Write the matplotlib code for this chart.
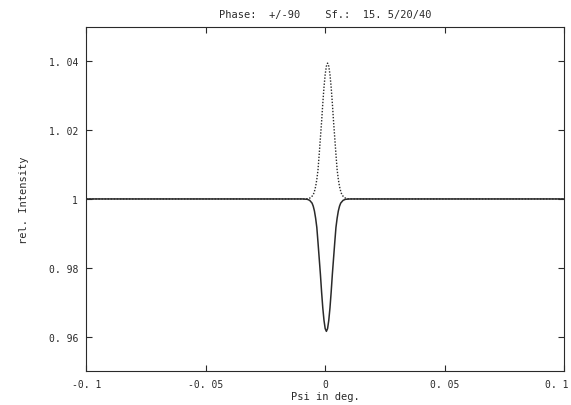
"""
Reflection curves: rel. intensity vs. psi for phase +/-90.
"""

import matplotlib
matplotlib.use("Agg")
import matplotlib.pyplot as plt
from matplotlib.transforms import ScaledTranslation

# values
peak_psi = [-0.1, -0.02, -0.009, -0.007, -0.006, -0.005, -0.0045, -0.004,
            -0.0035, -0.003, -0.0025, -0.002, -0.0015, -0.001, -0.0005, 0.0,
            0.0005, 0.001, 0.0015, 0.002, 0.0025, 0.003, 0.0035, 0.004,
            0.0045, 0.005, 0.0055, 0.006, 0.0065, 0.007, 0.008, 0.009,
            0.011, 0.022, 0.1]
peak_int = [1.0, 1.0, 1.0, 1.0001, 1.0004, 1.0012, 1.0022, 1.0036,
            1.0057, 1.0085, 1.0130, 1.0178, 1.0225, 1.0278, 1.0325, 1.0362,
            1.0386, 1.0395, 1.0386, 1.0362, 1.0325, 1.0278, 1.0225, 1.0178,
            1.0130, 1.0085, 1.0057, 1.0036, 1.0022, 1.0012, 1.0004, 1.0001,
            1.0, 1.0, 1.0]

dip_psi = [-0.1, -0.02, -0.0095, -0.0075, -0.0065, -0.0055, -0.005, -0.0045,
           -0.004, -0.0035, -0.003, -0.0025, -0.002, -0.0015, -0.001, -0.0005,
           0.0, 0.0005, 0.001, 0.0015, 0.002, 0.0025, 0.003, 0.0035,
           0.004, 0.0045, 0.005, 0.0055, 0.006, 0.0065, 0.0075, 0.0085,
           0.0105, 0.021, 0.1]
dip_int = [1.0, 1.0, 1.0, 0.9999, 0.9996, 0.9988, 0.9979, 0.9965,
           0.9944, 0.9917, 0.9873, 0.9827, 0.9781, 0.9729, 0.9683, 0.9647,
           0.9623, 0.9615, 0.9623, 0.9647, 0.9683, 0.9729, 0.9781, 0.9827,
           0.9873, 0.9917, 0.9944, 0.9965, 0.9979, 0.9988, 0.9996, 0.9999,
           1.0, 1.0, 1.0]

x_ticks = [-0.1, -0.05, 0.0, 0.05, 0.1]
x_tick_labels = ["-0. 1", "-0. 05", "0", "0. 05", "0. 1"]
y_ticks = [0.96, 0.98, 1.0, 1.02, 1.04]
y_tick_labels = ["0. 96", "0. 98", "1", "1. 02", "1. 04"]

title = "Phase:  +/-90    Sf.:  15. 5/20/40"
x_label = "Psi in deg."
y_label = "rel. Intensity"


def main():
    plt.rcParams["font.family"] = "DejaVu Sans Mono"
    ink = "#2a2a2a"

    fig = plt.figure(figsize=(5.71, 4.06), dpi=100)
    ax = fig.add_axes([0.151, 0.084, 0.837, 0.847])

    ax.plot(dip_psi, dip_int, color=ink, linewidth=1.1)
    ax.plot(peak_psi, peak_int, color=ink, linewidth=1.0, linestyle=(0, (1, 1.2)))

    ax.set_xlim(-0.1, 0.1)
    ax.set_ylim(0.95, 1.05)
    ax.set_xticks(x_ticks, x_tick_labels)
    ax.set_yticks(y_ticks, y_tick_labels)
    ax.tick_params(direction="in", length=4, width=0.8, colors=ink,
                   labelsize=7, top=True, right=True, pad=6)

    # the last x label sits a little left of its tick, as on the plotter output
    last = ax.get_xticklabels()[-1]
    last.set_transform(last.get_transform()
                       + ScaledTranslation(-7 / 100, 0, fig.dpi_scale_trans))

    for spine in ax.spines.values():
        spine.set_color(ink)
        spine.set_linewidth(0.8)

    ax.set_title(title, fontsize=7.5, color=ink, pad=7)
    ax.set_xlabel(x_label, fontsize=7.5, color=ink, labelpad=1)
    ax.set_ylabel(y_label, fontsize=7.5, color=ink, labelpad=14)

    fig.savefig("out.png", dpi=100)


if __name__ == "__main__":
    main()
